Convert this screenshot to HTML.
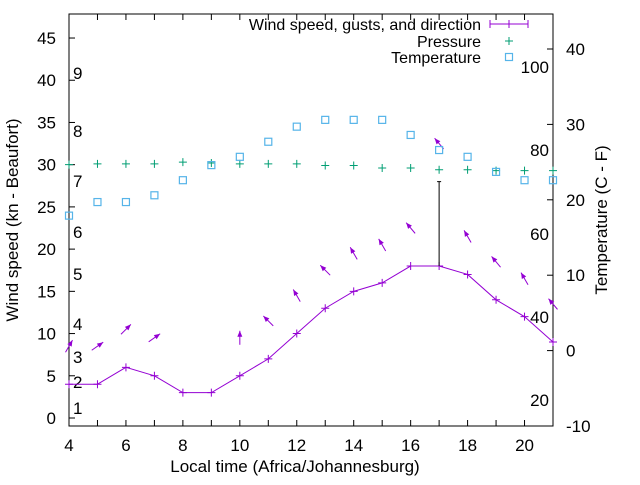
<!DOCTYPE html>
<html><head><meta charset="utf-8"><style>body{margin:0;background:#fff}svg{font-family:"Liberation Sans",sans-serif}</style></head><body>
<svg id="c" width="640" height="480" xmlns="http://www.w3.org/2000/svg"></svg>
<script>
const hours=[4,5,6,7,8,9,10,11,12,13,14,15,16,17,18,19,20,21];
const windSpeed=[4,4,6,5,3,3,5,7,10,13,15,16,18,18,17,14,12,9];
const gustHours=[17];
const gustValues=[28];
const windDir=[60,35,45,35,null,null,90,135,120,135,120,120,130,130,120,130,120,130];
const pressure=[30.0,30.1,30.1,30.1,30.3,30.2,30.1,30.1,30.1,29.9,29.9,29.6,29.6,29.4,29.4,29.3,29.3,29.3];
const temperature=[17.9,19.7,19.7,20.6,22.6,24.6,25.7,27.7,29.7,30.6,30.6,30.6,28.6,26.6,25.7,23.7,22.6,22.6];
const xTicks=[4,6,8,10,12,14,16,18,20];
const yTicks=[0,5,10,15,20,25,30,35,40,45];
const y2Ticks=[-10,0,10,20,30,40];
const beaufort=[["1",408],["2",382],["3",357],["4",324],["5",274],["6",232],["7",181],["8",131],["9",73]];
const fahr=[["100",67],["80",150],["60",234],["40",317],["20",400]];

const L=69,R=553,T=14,B=426;
const X=h=>L+(h-4)*(R-L)/17;
const Y=v=>418-v*8.444;
const Y2=v=>426-(v+10)*7.54;
const svg=document.getElementById('c');
const NS='http://www.w3.org/2000/svg';
function mk(tag,attrs,parent){const e=document.createElementNS(NS,tag);for(const k in attrs)e.setAttribute(k,attrs[k]);(parent||svg).appendChild(e);return e;}
function txt(s,x,y,anchor,size,parent){const t=mk('text',{x:x,y:y,'text-anchor':anchor||'start','font-size':size||17,fill:'#000'},parent);t.textContent=s;return t;}

const FS=17;
const fr=mk('rect',{x:L,y:T,width:R-L,height:B-T,fill:'none',stroke:'#000','stroke-width':1});


const gx=mk('g',{});


for(let h=4;h<=21;h++){mk('line',{x1:X(h),y1:B,x2:X(h),y2:B-6,stroke:'#000'},gx);mk('line',{x1:X(h),y1:T,x2:X(h),y2:T+6,stroke:'#000'},gx);}
xTicks.forEach(h=>txt(String(h),X(h),451,'middle',FS,gx));
const gy=mk('g',{});


yTicks.forEach(v=>{mk('line',{x1:L,y1:Y(v),x2:L+6,y2:Y(v),stroke:'#000'},gy);txt(String(v),56,Y(v)+6,'end',FS,gy);});
const gy2=mk('g',{});


y2Ticks.forEach(v=>{mk('line',{x1:R,y1:Y2(v),x2:R-6,y2:Y2(v),stroke:'#000'},gy2);txt(String(v),566,Y2(v)+6,'start',FS,gy2);});
const gb=mk('g',{});


beaufort.forEach(b=>txt(b[0],73,b[1]+6,'start',FS,gb));
const gf=mk('g',{});


fahr.forEach(f=>txt(f[0],549,f[1]+6,'end',FS,gf));
let t=txt('Local time (Africa/Johannesburg)',295,472,'middle',FS);


t=txt('Wind speed (kn - Beaufort)',0,0,'middle',FS);t.setAttribute('transform','translate(18,220) rotate(-90)');


t=txt('Temperature (C - F)',0,0,'middle',FS);t.setAttribute('transform','translate(607,220) rotate(-90)');



const P='#9400d3';
const wl=mk('polyline',{points:hours.map((h,i)=>X(h)+','+Y(windSpeed[i])).join(' '),fill:'none',stroke:P,'stroke-width':1});


hours.forEach((h,i)=>{const x=X(h),y=Y(windSpeed[i]);const g=mk('g',{});


mk('path',{d:`M${x-4},${y}H${x+4}M${x},${y-4}V${y+4}`,stroke:P},g);});
gustHours.forEach((h,j)=>{const i=hours.indexOf(h);const x=X(h);
const g=mk('path',{d:`M${x},${Y(windSpeed[i])}V${Y(gustValues[j])}M${x-2},${Y(gustValues[j])}H${x+2}`,stroke:'#000','stroke-width':1});

});
hours.forEach((h,i)=>{if(windDir[i]==null)return;const base=Math.max(windSpeed[i],gustHours.includes(h)?gustValues[gustHours.indexOf(h)]:0);
const cx=X(h),cy=Y(base+4.5),a=windDir[i]*Math.PI/180,len=14;
const dx=Math.cos(a)*len/2,dy=-Math.sin(a)*len/2;
const x1=cx-dx,y1=cy-dy,x2=cx+dx,y2=cy+dy;
const ux=Math.cos(a),uy=-Math.sin(a),px=-uy,py=ux;
const g=mk('g',{});


mk('line',{x1:x1,y1:y1,x2:x2,y2:y2,stroke:P,'stroke-width':1},g);
mk('polygon',{points:`${x2},${y2} ${x2-ux*6+px*2.5},${y2-uy*6+py*2.5} ${x2-ux*6-px*2.5},${y2-uy*6-py*2.5}`,fill:P},g);});
const G='#009e73';
hours.forEach((h,i)=>{const x=X(h),y=Y(pressure[i]);const p=mk('path',{d:`M${x-4},${y}H${x+4}M${x},${y-4}V${y+4}`,stroke:G});

});
const C='#56b4e9';
hours.forEach((h,i)=>{const x=X(h),y=Y2(temperature[i]);const r=mk('rect',{x:x-3.5,y:y-3.5,width:7,height:7,fill:'none',stroke:C,'stroke-width':1.2});

});
const lg=mk('g',{});


txt('Wind speed, gusts, and direction',481,30,'end',16,lg);
mk('path',{d:'M490,24H528M490,20V28M528,20V28M509,20V28',stroke:P},lg);
txt('Pressure',481,47,'end',16,lg);
mk('path',{d:'M505,41H513M509,37V45',stroke:G},lg);
txt('Temperature',481,63,'end',16,lg);
mk('rect',{x:505.5,y:53.5,width:7,height:7,fill:'none',stroke:C,'stroke-width':1.2},lg);
</script>
</body></html>
